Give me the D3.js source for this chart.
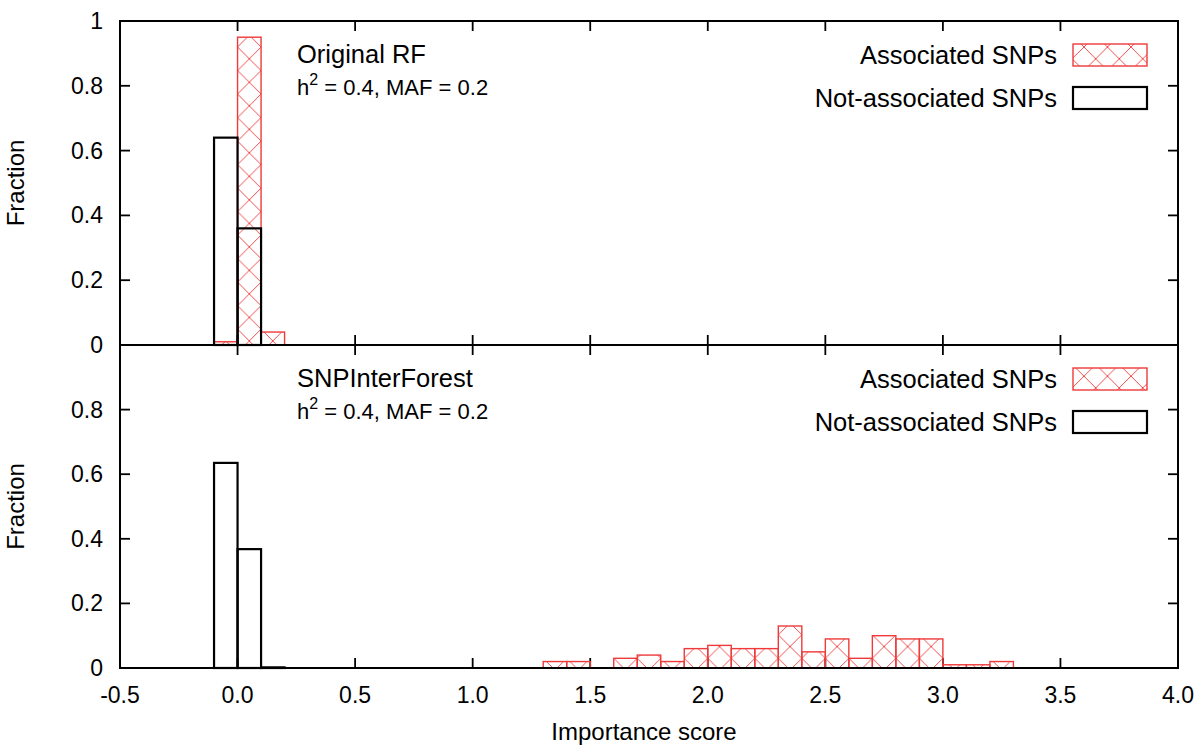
<!DOCTYPE html>
<html><head><meta charset="utf-8">
<script src="https://cdn.jsdelivr.net/npm/d3@7"></script>
<style>body{margin:0;background:#fff}text{font-family:"Liberation Sans",Arial,sans-serif;fill:#000}</style>
</head><body><svg id="c" width="1200" height="750"></svg>
<script>
// Bin starts (width 0.1)
const binWidth = 0.1;
// Top panel: Original RF
const topAssocBins = [-0.1, 0.0, 0.1];
const topAssocVals = [0.01, 0.95, 0.04];
const topNotBins = [-0.1, 0.0];
const topNotVals = [0.64, 0.36];
// Bottom panel: SNPInterForest
const botNotBins = [-0.1, 0.0, 0.1];
const botNotVals = [0.635, 0.368, 0.002];
const botAssocBins = [1.3, 1.4, 1.6, 1.7, 1.8, 1.9, 2.0, 2.1, 2.2, 2.3, 2.4, 2.5, 2.6, 2.7, 2.8, 2.9, 3.0, 3.1, 3.2];
const botAssocVals = [0.02, 0.02, 0.03, 0.04, 0.02, 0.06, 0.07, 0.06, 0.06, 0.13, 0.05, 0.09, 0.03, 0.10, 0.09, 0.09, 0.01, 0.01, 0.02];
const xTicks = [-0.5, 0.0, 0.5, 1.0, 1.5, 2.0, 2.5, 3.0, 3.5, 4.0];
const xTickLabels = ["-0.5", "0.0", "0.5", "1.0", "1.5", "2.0", "2.5", "3.0", "3.5", "4.0"];
const topYTicks = [0, 0.2, 0.4, 0.6, 0.8, 1];
const botYTicks = [0, 0.2, 0.4, 0.6, 0.8];
const panelTitles = ["Original RF", "SNPInterForest"];
const legendLabels = ["Associated SNPs", "Not-associated SNPs"];

const svg = d3.select("#c");
const L = 120, R = 1178;
const x = d3.scaleLinear().domain([-0.5, 4.0]).range([L, R]);
const yTop = d3.scaleLinear().domain([0, 1]).range([345, 21]);
const yBot = d3.scaleLinear().domain([0, 1]).range([668, 345]);
const red = "#ee3a3a";
const tw = x(binWidth) - x(0);

const defs = svg.append("defs");
const pat = defs.append("pattern").attr("id", "hatch").attr("patternUnits", "userSpaceOnUse")
  .attr("x", x(0)).attr("y", 0).attr("width", tw).attr("height", tw);
pat.append("path").attr("d", `M0,0L${tw},${tw}M${tw},0L0,${tw}M-1,1L1,-1M${tw-1},${tw+1}L${tw+1},${tw-1}`)
  .attr("stroke", red).attr("stroke-width", 0.9).attr("fill", "none");

function panel(y, assocBins, assocVals, notBins, notVals, title, showOne) {
  const g = svg.append("g");
  const yMin = y.range()[1], y0 = y.range()[0];
  const ticks = g.append("g").attr("stroke", "#000").attr("stroke-width", 1.8);
  xTicks.forEach(t => {
    ticks.append("line").attr("x1", x(t)).attr("x2", x(t)).attr("y1", y0).attr("y2", y0 - 10);
    ticks.append("line").attr("x1", x(t)).attr("x2", x(t)).attr("y1", yMin).attr("y2", yMin + 10);
  });
  const yt = showOne ? topYTicks : botYTicks;
  yt.forEach(t => {
    ticks.append("line").attr("x1", L).attr("x2", L + 10).attr("y1", y(t)).attr("y2", y(t));
    ticks.append("line").attr("x1", R).attr("x2", R - 10).attr("y1", y(t)).attr("y2", y(t));
  });
  g.append("g").selectAll("text").data(yt).join("text")
    .attr("x", L - 17).attr("y", d => y(d) + 8).attr("text-anchor", "end")
    .attr("font-size", 23).text(d => d === 0 ? "0" : d === 1 ? "1" : d3.format(".1f")(d));
  g.append("g").selectAll("rect").data(assocBins.map((b, i) => [b, assocVals[i]])).join("rect")
    .attr("x", d => x(d[0])).attr("width", tw)
    .attr("y", d => y(d[1])).attr("height", d => y0 - y(d[1]))
    .attr("fill", "url(#hatch)").attr("stroke", red).attr("stroke-width", 1.4);
  g.append("g").selectAll("rect").data(notBins.map((b, i) => [b, notVals[i]])).join("rect")
    .attr("x", d => x(d[0])).attr("width", tw)
    .attr("y", d => y(d[1])).attr("height", d => y0 - y(d[1]))
    .attr("fill", "none").attr("stroke", "#000").attr("stroke-width", 2.2);
  g.append("rect").attr("x", L).attr("y", yMin).attr("width", R - L).attr("height", y0 - yMin)
    .attr("fill", "none").attr("stroke", "#000").attr("stroke-width", 2);
  g.append("text").attr("x", 297).attr("y", yMin + 42).attr("font-size", 25.5).text(title);
  const sub = g.append("text").attr("x", 297).attr("y", yMin + 74).attr("font-size", 22);
  sub.append("tspan").text("h");
  sub.append("tspan").attr("dy", -10).attr("font-size", 16).text("2");
  sub.append("tspan").attr("dy", 10).text(" = 0.4, MAF = 0.2");
  const lg = g.append("g");
  lg.append("text").attr("x", 1057).attr("y", yMin + 43).attr("text-anchor", "end").attr("font-size", 25.5).text(legendLabels[0]);
  lg.append("text").attr("x", 1057).attr("y", yMin + 86).attr("text-anchor", "end").attr("font-size", 25.5).text(legendLabels[1]);
  lg.append("rect").attr("x", 1073).attr("y", yMin + 23).attr("width", 74).attr("height", 22)
    .attr("fill", "url(#hatch)").attr("stroke", red).attr("stroke-width", 1.4);
  lg.append("rect").attr("x", 1073).attr("y", yMin + 66).attr("width", 74).attr("height", 22)
    .attr("fill", "none").attr("stroke", "#000").attr("stroke-width", 2.2);
  const cy = (yMin + y0) / 2;
  g.append("text").attr("transform", `translate(24,${cy}) rotate(-90)`).attr("text-anchor", "middle")
    .attr("font-size", 24).text("Fraction");
}
panel(yTop, topAssocBins, topAssocVals, topNotBins, topNotVals, panelTitles[0], true);
panel(yBot, botAssocBins, botAssocVals, botNotBins, botNotVals, panelTitles[1], false);

svg.append("g").selectAll("text").data(xTicks).join("text")
  .attr("x", d => x(d)).attr("y", 703).attr("text-anchor", "middle").attr("font-size", 23)
  .text((d, i) => xTickLabels[i]);
svg.append("text").attr("x", 644).attr("y", 740).attr("text-anchor", "middle").attr("font-size", 24).text("Importance score");
</script></body></html>
